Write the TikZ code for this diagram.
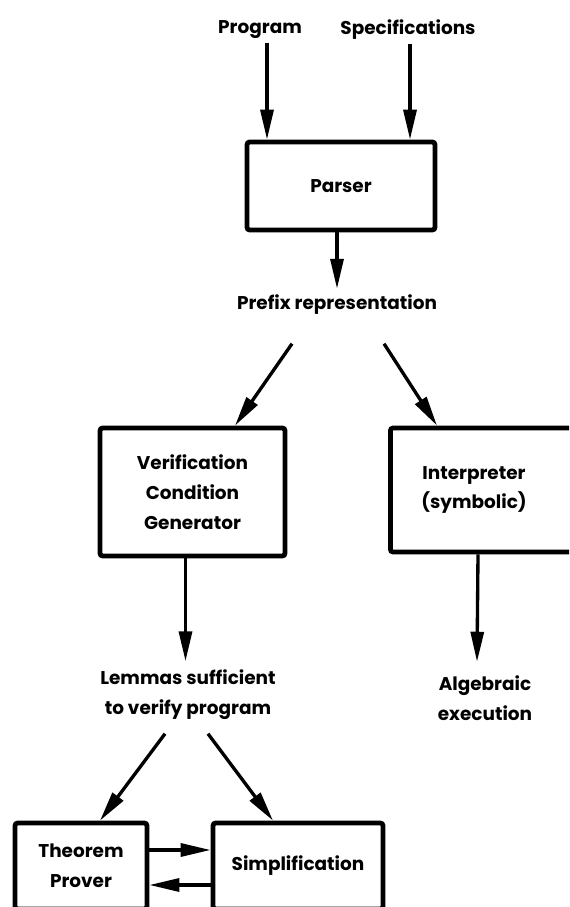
\documentclass[tikz,border=0pt]{standalone}
\usepackage{fontspec}
\setmainfont{Poppins}
\usetikzlibrary{arrows.meta}
\begin{document}
\begin{tikzpicture}[auto,scale=1.0]
    \tikzstyle{box}=[rectangle,draw,line width=2.7pt,rounded corners=1.5pt,align=center,font=\bfseries\fontsize{10.5}{17}\selectfont]
    \tikzstyle{term}=[align=center,inner sep=2pt,font=\bfseries\fontsize{10.5}{17}\selectfont]
    \tikzstyle{flow}=[line width=1.9pt,-{Triangle[length=6mm,width=2.6mm]}]
    \useasboundingbox (0,0) rectangle (11.38,18.14);
    \clip (0,0) rectangle (11.38,18.14);
    % inputs and parser
    \node (prog)   at (5.20,17.54) [term] {Program};
    \node (spec)   at (8.16,17.54) [term] {Specifications};
    \node (parser) at (6.82,14.42) [box,minimum width=3.76cm,minimum height=1.76cm] {Parser};
    \node (prefix) at (6.74,12.04) [term] {Prefix representation};
    % the two branches
    \node (verif)  at (3.85,8.30)  [box,minimum width=3.70cm,minimum height=2.56cm] {Verification\\Condition\\Generator};
    \node (interp) at (7.76,8.34)  [box,anchor=west,minimum width=4.4cm,minimum height=2.48cm] {};
    \node (interptxt) at (9.48,8.34) [term] {Interpreter\\(symbolic)};
    \node (lemmas) at (3.76,4.24)  [term] {Lemmas sufficient\\to verify program};
    \node (alg)    at (9.70,4.18)  [term] {Algebraic\\execution};
    % bottom boxes, cut by the page edge
    \node (prover) at (1.62,0.82)  [box,minimum width=2.64cm,minimum height=1.72cm] {Theorem\\Prover};
    \node (simp)   at (5.96,0.82)  [box,minimum width=3.40cm,minimum height=1.72cm] {Simplification};
    \draw [flow] ([xshift=0.14cm]prog.south) -- ([xshift=0.14cm]prog.south |- parser.north);
    \draw [flow] ([xshift=0.04cm]spec.south) -- ([xshift=0.04cm]spec.south |- parser.north);
    \draw [flow] ([xshift=-0.08cm]parser.south) -- ([xshift=-0.08cm,yshift=0.05cm]parser.south |- prefix.north);
    \draw [flow] ([xshift=-0.90cm,yshift=-0.5cm]prefix.south) -- ([xshift=0.85cm]verif.north);
    \draw [flow] ([xshift=0.94cm,yshift=-0.5cm]prefix.south) -- ([xshift=0.98cm]interp.north west);
    \draw [flow] ([xshift=-0.14cm]verif.south) -- ([xshift=-0.14cm,yshift=0.1cm]verif.south |- lemmas.north);
    \draw [flow] ([xshift=1.8cm]interp.south west) -- ([xshift=-0.16cm,yshift=0.2cm]alg.north);
    \draw [flow] ([xshift=-0.46cm,yshift=-0.2cm]lemmas.south) -- ([xshift=0.38cm]prover.north);
    \draw [flow] ([xshift=0.4cm,yshift=-0.2cm]lemmas.south) -- ([xshift=-0.5cm]simp.north);
    \draw [flow] ([yshift=0.32cm]prover.east) -- ([yshift=0.32cm]simp.west);
    \draw [flow] ([yshift=-0.38cm]simp.west) -- ([yshift=-0.38cm]prover.east);
\end{tikzpicture}
\end{document}
